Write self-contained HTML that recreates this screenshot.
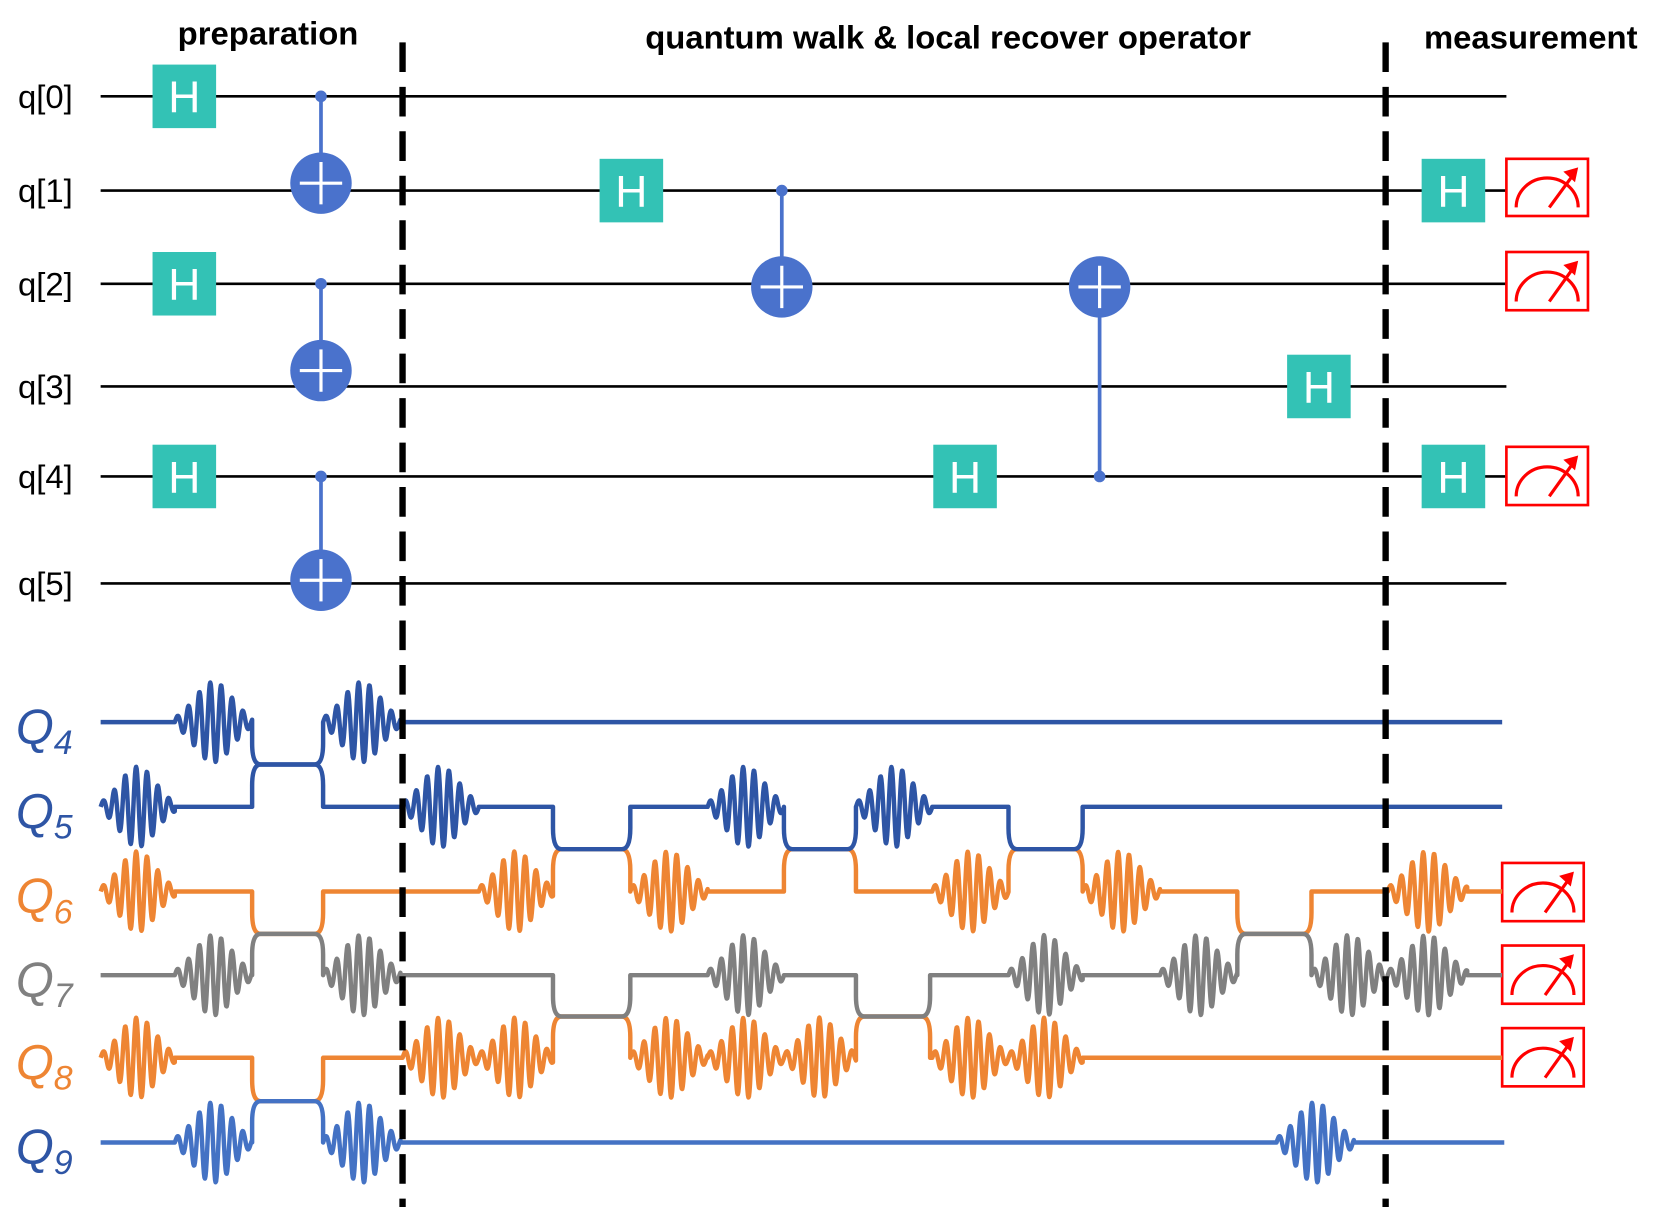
<!DOCTYPE html>
<html><head><meta charset="utf-8"><style>
html,body{margin:0;padding:0;background:#fff;}
svg{display:block;}
text{font-family:"Liberation Sans",Arial,sans-serif;}
</style></head><body>
<svg id="s" width="1660" height="1224" viewBox="0 0 1567 1156" preserveAspectRatio="none" xmlns="http://www.w3.org/2000/svg">
<g font-weight="bold" font-size="31" text-anchor="middle" fill="#000">
<text x="253" y="42">preparation</text>
<text x="895" y="46">quantum walk &amp; local recover operator</text>
<text x="1445" y="46">measurement</text>
</g>
<g font-size="31" fill="#000">
<text x="17" y="102">q[0]</text><text x="17" y="191">q[1]</text><text x="17" y="279">q[2]</text>
<text x="17" y="376">q[3]</text><text x="17" y="461">q[4]</text><text x="17" y="562">q[5]</text>
</g>
<g stroke="#000" stroke-width="2.5">
<line x1="95" y1="91" x2="1422" y2="91"/><line x1="95" y1="180" x2="1422" y2="180"/>
<line x1="95" y1="268" x2="1422" y2="268"/><line x1="95" y1="365" x2="1422" y2="365"/>
<line x1="95" y1="450" x2="1422" y2="450"/><line x1="95" y1="551" x2="1422" y2="551"/>
</g>
<g id="gates"></g>
<g id="waves" fill="none" stroke-width="4.2" stroke-linejoin="round"></g>
<g font-style="italic" font-size="46">
<text x="15" y="702" fill="#2e55a5">Q<tspan font-size="32" dy="10">4</tspan></text>
<text x="15" y="782" fill="#2e55a5">Q<tspan font-size="32" dy="10">5</tspan></text>
<text x="15" y="862" fill="#ee8533">Q<tspan font-size="32" dy="10">6</tspan></text>
<text x="15" y="941" fill="#808080">Q<tspan font-size="32" dy="10">7</tspan></text>
<text x="15" y="1019" fill="#ee8533">Q<tspan font-size="32" dy="10">8</tspan></text>
<text x="15" y="1099" fill="#2e55a5">Q<tspan font-size="32" dy="10">9</tspan></text>
</g>
<g stroke="#000" stroke-width="6" stroke-dasharray="28,14">
<line x1="380" y1="40" x2="380" y2="1140"/><line x1="1308" y1="40" x2="1308" y2="1140"/>
</g>
</svg>
<script>
var NS="http://www.w3.org/2000/svg",G=document.getElementById('gates'),W=document.getElementById('waves');
function el(p,t,a,txt){var e=document.createElementNS(NS,t);for(var k in a)e.setAttribute(k,a[k]);if(txt)e.textContent=txt;p.appendChild(e);return e;}
function H(x,y){el(G,'rect',{x:x-30,y:y-30,width:60,height:60,fill:'#33c2b5'});el(G,'text',{x:x,y:y+15,'font-size':42,fill:'#fff','text-anchor':'middle'},'H');}
function CX(x,yc,yt,yw){var c='#4a72cc';el(G,'line',{x1:x,y1:yc,x2:x,y2:yt,stroke:c,'stroke-width':3.5});el(G,'circle',{cx:x,cy:yc,r:5.5,fill:c});
el(G,'circle',{cx:x,cy:yt,r:29,fill:c});el(G,'line',{x1:x-20,y1:yt,x2:x+20,y2:yt,stroke:'#fff','stroke-width':3});el(G,'line',{x1:x,y1:yt-20,x2:x,y2:yt+20,stroke:'#fff','stroke-width':3});}
function M(x,y,w,h){el(G,'rect',{x:x,y:y,width:w,height:h,fill:'#fff',stroke:'#f00','stroke-width':2.5});
var cx=x+w/2,cy=y+h*0.85,r=w*0.38;el(G,'path',{d:'M'+(cx-r)+' '+cy+' A'+r+' '+r*0.95+' 0 0 1 '+(cx+r)+' '+cy,fill:'none',stroke:'#f00','stroke-width':3});
var x1=cx+2,y1=cy,x2=x+w*0.88,y2=y+h*0.15;el(G,'line',{x1:x1,y1:y1,x2:x2-4,y2:y2+6,stroke:'#f00','stroke-width':3});
el(G,'path',{d:'M'+x2+' '+y2+' L'+(x2-14)+' '+(y2+4)+' L'+(x2-3)+' '+(y2+14)+'Z',fill:'#f00'});}
H(174,91);H(174,268);H(174,450);CX(303,91,173,180);CX(303,268,350,365);CX(303,450,548,551);
H(596,180);CX(738,180,271);CX(1038,450,271);H(911,450);H(1245,365);H(1372,180);H(1372,450);
M(1422,150,77,54);M(1422,238,77,55);M(1422,422,77,55);M(1418,815,77,55);M(1418,893,77,55);M(1418,971,77,55);
var Y=[682,762,842,921,999,1079];
function pulse(a,b,y0){var s='',c=(a+b)/2,w=b-a;for(var x=a;x<=b;x+=0.5){var e=Math.exp(-Math.pow((x-c)/(w*0.34),2));var v=y0-38*e*Math.sin(2*Math.PI*(x-a)/10.3);s+=' L'+x.toFixed(1)+' '+v.toFixed(1);}return s+' L'+b+' '+y0;}
function build(y0,segs,col){var d='M95 '+y0;segs.forEach(function(g){
 if(g[0]=='p'){d+=' L'+g[1]+' '+y0+pulse(g[1],g[2],y0);}
 else if(g[0]=='l'){d+=' L'+g[2]+' '+y0;}
 else if(g[0]=='s'){var a=g[1],b=g[2],ym=g[3],dy=ym-y0;d+=' L'+a+' '+y0+' L'+a+' '+(y0+dy*0.5)+' Q'+a+' '+ym+' '+(a+8)+' '+ym+' L'+(b-8)+' '+ym+' Q'+b+' '+ym+' '+b+' '+(y0+dy*0.5)+' L'+b+' '+y0;}
});el(W,'path',{d:d,stroke:col});}
var B='#2e55a5',O='#ee8533',Gr='#808080',L='#4472c4';
build(Y[0],[['p',165,238],['s',238,305,722],['p',305,378],['l',0,1418]],B);
build(Y[2],[['p',95,165],['s',238,305,882],['p',452,522],['s',522,595,802],['p',595,668],['s',740,808,802],['p',880,952],['s',952,1022,802],['p',1022,1095],['s',1168,1238,882],['p',1310,1385],['l',0,1418]],O);
build(Y[1],[['p',95,165],['s',238,305,722],['p',380,452],['s',522,595,802],['p',668,740],['s',740,808,802],['p',808,880],['s',952,1022,802],['l',0,1418]],B);
build(Y[4],[['p',95,165],['s',238,305,1040],['p',380,452],['p',452,522],['s',522,595,960],['p',595,668],['p',668,740],['p',740,808],['s',808,878,960],['p',880,952],['p',952,1022],['l',0,1418]],O);
build(Y[3],[['p',165,238],['s',238,305,882],['p',305,378],['s',522,595,960],['p',668,740],['s',808,878,960],['p',952,1022],['p',1095,1168],['s',1168,1238,882],['p',1238,1310],['p',1310,1385],['l',0,1418]],Gr);
build(Y[5],[['p',165,238],['s',238,305,1040],['p',305,378],['p',1205,1278],['l',0,1420]],L);
</script>
</body></html>
